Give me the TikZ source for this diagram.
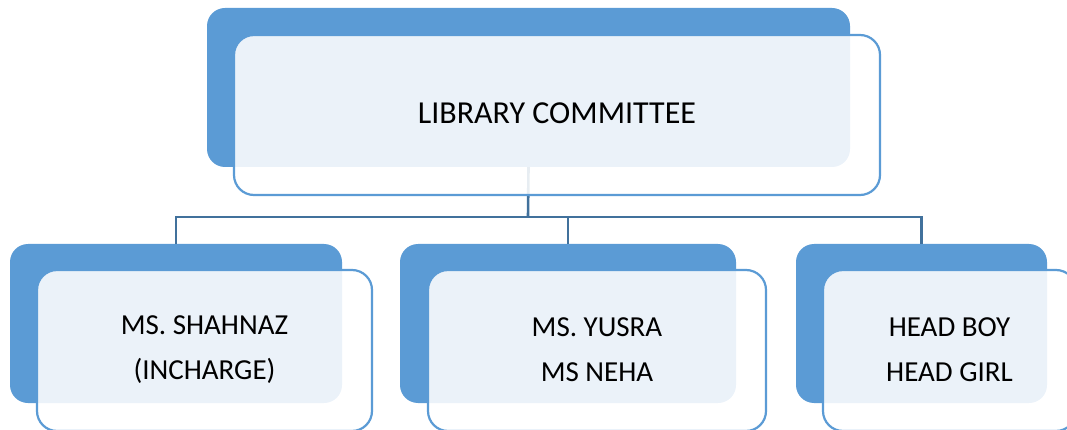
\documentclass[tikz,border=0pt]{standalone}
\usepackage{fontspec}
\setmainfont{Carlito}
\definecolor{backblue}{HTML}{5B9BD5}
\definecolor{edgeblue}{HTML}{5B9BD5}
\definecolor{linkblue}{HTML}{41719C}
\begin{document}
\begin{tikzpicture}[x=1pt,y=-1pt,
  backbox/.style={rectangle, rounded corners=18pt, fill=backblue, draw=none, inner sep=0pt},
  frontbox/.style={rectangle, rounded corners=20pt, fill=white, fill opacity=0.88, draw=edgeblue, draw opacity=1, line width=2.2pt, inner sep=0pt},
  lbl/.style={align=center, text=black, text opacity=1},
  link/.style={draw=linkblue, line width=2.6pt}]
\useasboundingbox (0,0) rectangle (1067,430);
\clip (0,0) rectangle (1067,430);
% back boxes
\node[backbox, minimum width=643pt, minimum height=159pt] (topback) at (528.5,87.5) {};
\node[backbox, minimum width=332pt, minimum height=159pt] (aback) at (176,323.5) {};
\node[backbox, minimum width=336pt, minimum height=159pt] (bback) at (568,323.5) {};
\node[backbox, minimum width=251pt, minimum height=159pt] (cback) at (921.5,323.5) {};
% connectors
\coordinate (j) at (528,217);
\draw[link] (topback.south) -- (j);
\draw[link] (j) -| (aback.north);
\draw[link] (j) -| (bback.north);
\draw[link] (j) -| (cback.north);
% front boxes
\node[frontbox, minimum width=646pt, minimum height=160pt] (topfront) at (557,115) {};
\node[frontbox, minimum width=335pt, minimum height=161pt] (afront) at (204.5,350.5) {};
\node[frontbox, minimum width=338pt, minimum height=161pt] (bfront) at (597,350.5) {};
\node[frontbox, minimum width=253pt, minimum height=161pt] (cfront) at (949.5,350.5) {};
% labels
\node[lbl, font=\fontsize{32}{38}\selectfont] (toptext) at (557,113) {LIBRARY COMMITTEE};
\node[lbl, font=\fontsize{29}{45}\selectfont] (atext) at (204.5,349.5) {MS. SHAHNAZ\\(INCHARGE)};
\node[lbl, font=\fontsize{29}{45}\selectfont] (btext) at (597,349.5) {MS. YUSRA\\MS NEHA};
\node[lbl, font=\fontsize{29}{45}\selectfont] (ctext) at (949.5,349.5) {HEAD BOY\\HEAD GIRL};
\end{tikzpicture}
\end{document}
